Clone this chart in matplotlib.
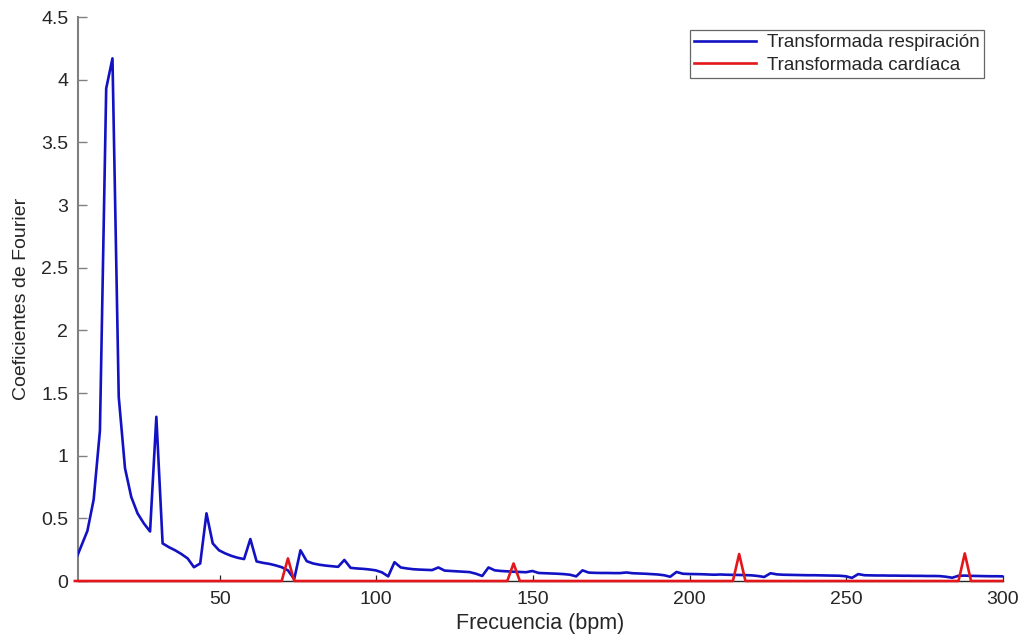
import numpy as np
import matplotlib
matplotlib.use("Agg")
import matplotlib.pyplot as plt

# ---- data -------------------------------------------------------------
freq_start = 3.8
freq_step = 2.0
freq_stop = 300.0
freq_bpm = np.arange(freq_start, freq_stop, freq_step)

resp_coef = [
    0.153, 0.277, 0.40, 0.65, 1.20, 3.93, 4.17, 1.47, 0.90, 0.67,
    0.54, 0.46, 0.395, 1.31, 0.30, 0.27, 0.245, 0.215, 0.18, 0.11,
    0.14, 0.54, 0.30, 0.245, 0.22, 0.20, 0.185, 0.175, 0.335, 0.156,
    0.145, 0.137, 0.125, 0.11, 0.085, 0.015, 0.245, 0.158, 0.14, 0.13,
    0.123, 0.118, 0.113, 0.168, 0.105, 0.10, 0.097, 0.092, 0.085, 0.069,
    0.037, 0.15, 0.108, 0.10, 0.094, 0.091, 0.089, 0.087, 0.108, 0.083,
    0.080, 0.077, 0.074, 0.071, 0.058, 0.040, 0.108, 0.085, 0.080, 0.077,
    0.074, 0.072, 0.070, 0.080, 0.064, 0.062, 0.060, 0.058, 0.055, 0.050,
    0.037, 0.085, 0.067, 0.065, 0.064, 0.064, 0.063, 0.063, 0.068, 0.062,
    0.060, 0.058, 0.055, 0.052, 0.046, 0.034, 0.072, 0.058, 0.056, 0.055,
    0.054, 0.052, 0.050, 0.052, 0.050, 0.049, 0.048, 0.047, 0.045, 0.040,
    0.032, 0.062, 0.053, 0.050, 0.049, 0.048, 0.047, 0.046, 0.046, 0.045,
    0.044, 0.043, 0.042, 0.038, 0.025, 0.055, 0.046, 0.045, 0.044, 0.044,
    0.043, 0.043, 0.042, 0.042, 0.041, 0.041, 0.040, 0.040, 0.039, 0.034,
    0.026, 0.042, 0.043, 0.041, 0.040, 0.039, 0.038, 0.038, 0.037,
]

cardiac_peak_bpm = [71.8, 143.8, 215.8, 287.8]
cardiac_peak_val = [0.18, 0.14, 0.215, 0.22]

cardiac_coef = np.zeros(len(freq_bpm))
for f, v in zip(cardiac_peak_bpm, cardiac_peak_val):
    cardiac_coef[np.argmin(np.abs(freq_bpm - f))] = v

x_ticks = [50, 100, 150, 200, 250, 300]
y_ticks = [0, 0.5, 1, 1.5, 2, 2.5, 3, 3.5, 4, 4.5]
y_tick_labels = ["0", "0.5", "1", "1.5", "2", "2.5", "3", "3.5", "4", "4.5"]

# ---- figure -----------------------------------------------------------
plt.rcParams["font.family"] = ["Liberation Sans", "DejaVu Sans"]

fig = plt.figure(figsize=(10.21, 6.35), dpi=100)
ax = fig.add_axes([78 / 1021, 54 / 635, (1003 - 78) / 1021, (581 - 17) / 635])

blue = "#1212c4"
red = "#e3161c"
ax.plot(freq_bpm, resp_coef, color=blue, lw=1.9,
        label="Transformada respiración", zorder=3)
ax.plot(freq_bpm, cardiac_coef, color=red, lw=1.9,
        label="Transformada cardíaca", zorder=4, clip_on=False)

ax.set_xlim(4.8, 300)
ax.set_ylim(0, 4.5)

ax.set_xticks(x_ticks)
ax.set_yticks(y_ticks)
ax.set_yticklabels(y_tick_labels)

for s in ["top", "right"]:
    ax.spines[s].set_visible(False)
ax.spines["left"].set_color("#808080")
ax.spines["left"].set_linewidth(1.5)
ax.spines["bottom"].set_color("#262626")
ax.spines["bottom"].set_linewidth(1.0)

ax.tick_params(axis="x", direction="in", length=4.5, width=0.9,
               colors="#262626", labelsize=14, pad=7)
ax.tick_params(axis="y", direction="in", length=6.5, width=1.0,
               colors="#808080", labelcolor="#262626", labelsize=14, pad=7)

ax.set_xlabel("Frecuencia (bpm)", fontsize=15.5, color="#262626", labelpad=4)
ax.set_ylabel("Coeficientes de Fourier", fontsize=14, color="#262626",
              labelpad=8)

leg = ax.legend(loc="upper right", bbox_to_anchor=(984 / 1021, 1 - 30 / 635),
                bbox_transform=fig.transFigure, fontsize=13.5,
                frameon=True, fancybox=False, handlelength=3.3,
                handletextpad=0.6, borderpad=0.22, labelspacing=0.28,
                borderaxespad=0.0)
leg.get_frame().set_edgecolor("#404040")
leg.get_frame().set_linewidth(0.9)
for t in leg.get_texts():
    t.set_color("#262626")

fig.savefig("out.png", dpi=100)
